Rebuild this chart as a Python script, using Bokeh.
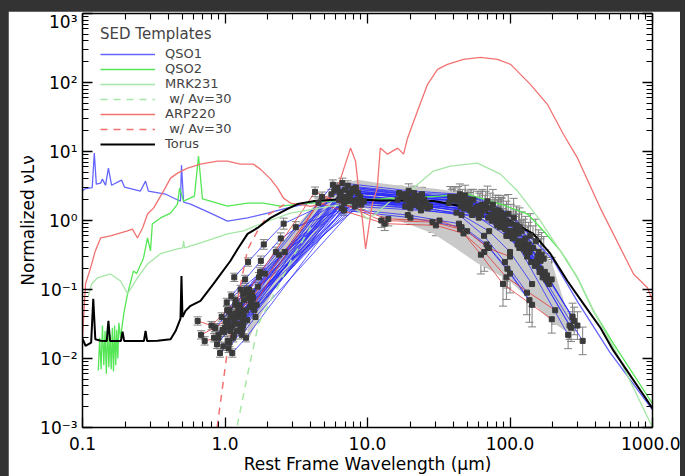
from bokeh.plotting import figure
from bokeh.models import (ColumnDataSource, Legend, LegendItem, FixedTicker, LogAxis,
                          Whisker, TeeHead, Range1d, CustomJSTickFormatter, Title)
from bokeh.layouts import column
from bokeh.embed import file_html
from bokeh.resources import INLINE

# ---------------- templates (rest wavelength in micron, normalized nuLnu) ----------------
QSO1_LAM = [0.1, 0.105, 0.117, 0.121, 0.125, 0.134, 0.138, 0.145, 0.152, 0.160, 0.188, 0.197,
            0.255, 0.277, 0.29, 0.382, 0.45, 0.487, 0.495, 0.512, 0.573, 0.791, 1.04, 1.44, 1.99,
            2.75, 4.0, 6.0, 10, 20, 40, 70, 100, 150, 200, 300, 500, 1000]
QSO1_VAL = [2.7, 2.9, 3.0, 9.5, 3.37, 3.48, 3.98, 3.24, 5.74, 3.24, 3.85, 3.05,
            2.67, 3.72, 2.67, 2.42, 2.05, 1.91, 6.34, 1.85, 1.73, 1.28, 0.98, 1.09, 1.28,
            1.52, 1.8, 1.95, 2.0, 2.05, 1.75, 1.3, 0.9, 0.5, 0.27, 0.065, 0.0125, 0.0018]

QSO2_LAM = [0.129, 0.132, 0.135, 0.138, 0.141, 0.144, 0.147, 0.150, 0.153, 0.156, 0.159, 0.162,
            0.165, 0.168, 0.171, 0.174, 0.177, 0.180, 0.185, 0.195, 0.207, 0.228, 0.24, 0.268,
            0.286, 0.30, 0.309, 0.353, 0.415, 0.464, 0.48, 0.512, 0.61, 0.652, 0.695, 0.791,
            1.04, 1.44, 1.86, 2.45, 5.5, 12.3, 32.5, 50.3, 85.8, 133, 172, 226, 298, 385, 532, 1000]
QSO2_VAL = [0.0067, 0.02, 0.007, 0.03, 0.008, 0.025, 0.006, 0.03, 0.0075, 0.022, 0.007, 0.028,
            0.0065, 0.03, 0.008, 0.026, 0.01, 0.033, 0.02, 0.045, 0.0866, 0.186, 0.17, 0.287,
            0.558, 0.362, 0.89, 1.09, 1.28, 1.73, 2.95, 1.91, 2.26, 8.56, 2.05, 1.91,
            1.62, 1.79, 1.79, 1.62, 1.91, 2.05, 2.26, 2.42, 1.73, 1.24, 0.705, 0.362, 0.147,
            0.049, 0.0164, 0.00222]

MRK_LAM = [0.110, 0.116, 0.127, 0.157, 0.185, 0.207, 0.243, 0.286, 0.353, 0.464, 0.505, 0.512,
           0.52, 0.673, 1.04, 1.35, 1.77, 2.88, 5.5, 7.6, 8.65, 10, 11.4, 14.5, 21, 29, 38.2,
           59, 85.8, 113, 133, 164, 202, 253, 313, 385, 550, 1000]
MRK_VAL = [0.081, 0.12, 0.147, 0.168, 0.133, 0.0866, 0.147, 0.235, 0.33, 0.387, 0.40, 0.505,
           0.40, 0.473, 0.64, 0.705, 0.89, 1.28, 1.62, 1.73, 1.37, 1.05, 1.24, 1.91, 2.95, 5.2,
           6.14, 6.8, 4.7, 2.67, 1.73, 0.98, 0.505, 0.259, 0.121, 0.049, 0.013, 0.001]

MRK_AV_LAM = [1.22, 1.46, 1.72, 2.27, 3.0, 4.0]
MRK_AV_VAL = [0.00107, 0.0067, 0.032, 0.096, 0.3, 0.8]

ARP_LAM = [0.1, 0.105, 0.114, 0.123, 0.134, 0.157, 0.207, 0.224, 0.243, 0.264, 0.286, 0.315,
           0.37, 0.415, 0.464, 0.546, 0.673, 0.886, 1.04, 1.28, 1.58, 1.77, 2.09, 2.34, 2.57,
           2.88, 3.23, 4.0, 5.0, 6.16, 7.6, 8.24, 8.65, 9.23, 9.7, 10.8, 11.7, 12.3, 13.8, 16.3,
           17.9, 19.1, 22.4, 26.4, 31, 36.4, 47.2, 62, 81.7, 101, 139, 183, 237, 298, 431, 736,
           922, 1000]
ARP_VAL = [0.02, 0.121, 0.206, 0.362, 0.558, 0.597, 0.705, 0.75, 0.558, 0.78, 1.24, 1.51,
           2.67, 4.11, 4.86, 5.74, 6.56, 7.25, 7.25, 6.56, 6.56, 5.55, 3.98, 2.95, 2.11,
           1.79, 1.73, 1.6, 1.8, 2.95, 11.2, 7.25, 2.95, 0.98, 0.387, 1.73, 2.95, 11.2, 9.15, 11.2,
           9.15, 15.6, 38.3, 94, 155, 183, 216, 231, 216, 183, 94, 48.3, 17.8, 8.0, 1.5, 0.168,
           0.106, 0.0686]

ARP_AV_LAM = [0.88, 1.04, 1.22, 1.44, 1.69, 2.0, 2.6]
ARP_AV_VAL = [0.001, 0.013, 0.068, 0.38, 0.705, 1.2, 1.7]

TORUS_LAM = [0.1, 0.105, 0.115, 0.119, 0.123, 0.134, 0.148, 0.152, 0.156, 0.186, 0.191, 0.196,
             0.27, 0.277, 0.284, 0.336, 0.415, 0.45, 0.487, 0.495, 0.503, 0.528, 0.573, 0.673,
             0.83, 1.09, 1.24, 1.44, 1.69, 2.09, 2.75, 3.23, 4.18, 7.2, 12.3, 17.1, 29, 59, 101,
             146, 192, 253, 328, 431, 532, 1000]
TORUS_VAL = [0.0194, 0.0153, 0.017, 0.0733, 0.019, 0.0181, 0.018, 0.0352, 0.018, 0.018, 0.0244,
             0.018, 0.018, 0.0252, 0.018, 0.0181, 0.019, 0.025, 0.0377, 0.157, 0.04, 0.049, 0.058,
             0.0686, 0.121, 0.259, 0.40, 0.64, 0.78, 1.09, 1.47, 1.73, 1.91, 2.05, 1.95, 1.95,
             1.91, 1.47, 0.98, 0.64, 0.33, 0.133, 0.062, 0.0279, 0.013, 0.0019]

# ---------------- gray envelope ----------------
BAND_LAM = [1.44, 2.19, 4.18, 6.47, 8.5, 12, 17, 29, 38, 59, 100, 146, 200, 270]
BAND_LO = [0.018, 0.096, 0.505, 2.2, 1.7, 1.2, 0.98, 0.64, 0.45, 0.24, 0.133, 0.062, 0.033, 0.022]
BAND_HI = [0.05, 0.35, 1.6, 3.3, 3.9, 3.5, 3.2, 2.9, 2.7, 1.9, 1.1, 0.55, 0.22, 0.03]

# ---------------- observed sources ----------------
BANDS_OBS = [3.6, 4.5, 5.8, 8.0, 24, 70, 160, 250, 350, 500, 1100]
ERR_DEX = [0.06, 0.06, 0.07, 0.08, 0.07, 0.10, 0.15, 0.22, 0.28, 0.32, 0.20]
N = None
SRC_Z = [2.20, 2.45, 1.85, 2.70, 2.05, 2.30, 1.65, 2.90, 2.55, 2.15, 1.95, 2.60, 2.35, 1.75,
         3.10, 2.25, 2.00, 2.80, 1.55, 2.40, 2.10, 2.65, 3.30, 1.90, 2.50, 2.20, 3.00, 1.80,
         2.75, 2.35, 2.05, 3.20, 1.70, 2.50,
         4.60, 4.30, 4.00]
SRC_CLASS = ["b"] * 34 + ["r"] * 3
SRC_VAL = [
    [0.030, 0.050, N, N, 2.3, 1.9, 1.8, 1.3, 0.75, 0.30, N],
    [0.018, 0.032, N, N, 2.8, 2.1, 2.0, 1.5, 0.90, 0.40, N],
    [0.045, 0.075, N, N, 2.0, 1.7, 1.4, 0.90, 0.45, 0.18, N],
    [0.015, 0.025, N, N, 2.6, 2.3, 2.2, 1.6, 1.00, 0.45, 0.030],
    [0.060, 0.100, 0.170, 0.35, 1.9, 1.6, 1.4, 0.95, 0.50, 0.20, N],
    [0.025, 0.045, N, N, 3.2, 2.5, 2.3, 1.7, 1.10, 0.50, N],
    [0.070, 0.110, N, N, 1.7, 1.5, 1.1, 0.60, 0.30, 0.12, N],
    [0.012, 0.022, N, N, 3.0, 2.4, 2.2, 1.7, 1.20, 0.55, 0.035],
    [0.035, 0.060, N, N, 2.2, 1.8, 1.6, 1.1, 0.60, 0.25, N],
    [0.020, 0.036, N, N, 2.5, 2.1, 1.9, 1.4, 0.85, 0.35, N],
    [0.040, 0.065, N, N, 1.6, 1.4, 1.2, 0.80, 0.40, 0.15, N],
    [0.028, 0.050, N, N, 3.5, 2.7, 2.4, 1.9, 1.25, 0.60, N],
    [0.050, 0.085, 0.150, 0.32, 2.1, 1.7, 1.5, 1.0, 0.55, 0.22, N],
    [0.022, 0.040, N, N, 1.8, 1.6, 1.3, 0.85, 0.42, 0.16, N],
    [0.016, 0.028, N, N, 2.7, 2.2, 2.0, 1.5, 1.00, 0.45, 0.028],
    [0.080, 0.140, 0.260, 0.55, 2.4, 1.9, 1.6, 1.1, 0.60, 0.24, N],
    [0.032, 0.055, N, N, 2.9, 2.3, 2.0, 1.4, 0.80, 0.32, N],
    [0.040, 0.070, N, N, 2.0, 1.6, 1.3, 0.60, 0.25, 0.09, N],
    [0.100, 0.180, 0.350, 0.80, 1.9, 1.6, 1.2, 0.70, 0.35, 0.14, N],
    [0.014, 0.026, N, N, 2.2, 1.9, 1.7, 1.2, 0.70, 0.25, 0.018],
    [0.150, 0.250, 0.450, 0.90, 2.6, 2.0, 1.5, 0.90, 0.45, 0.18, N],
    [0.024, 0.042, N, N, 1.5, 1.2, 0.9, 0.45, 0.20, 0.07, N],
    [0.020, 0.035, N, N, 2.4, 2.0, 1.8, 1.3, 0.85, 0.40, 0.022],
    [0.055, 0.090, N, N, 3.0, 2.4, 2.0, 1.3, 0.70, 0.28, N],
    [0.030, 0.052, N, N, 1.4, 1.1, 0.8, 0.40, 0.17, 0.06, N],
    [0.012, 0.020, N, N, 2.0, 1.8, 1.6, 1.1, 0.65, 0.28, N],
    [0.022, 0.040, N, N, 2.9, 2.3, 2.1, 1.6, 1.10, 0.50, 0.040],
    [0.030, 0.050, N, N, 2.5, 2.0, 1.5, 0.80, 0.38, 0.14, N],
    [0.026, 0.045, N, N, 2.4, 2.0, 1.9, 1.4, 0.90, 0.40, N],
    [0.017, 0.030, N, N, 1.9, 1.7, 1.5, 1.0, 0.60, 0.25, N],
    [0.045, 0.075, N, N, 2.7, 2.2, 1.8, 1.2, 0.65, 0.26, N],
    [0.028, 0.048, N, N, 3.3, 2.5, 2.2, 1.6, 1.05, 0.48, 0.030],
    [0.038, 0.060, N, N, 2.2, 1.8, 1.3, 0.75, 0.35, 0.13, N],
    [0.065, 0.100, N, N, 1.8, 1.5, 1.2, 0.70, 0.35, 0.12, N],
    [0.035, 0.030, 0.050, 0.09, 2.6, 1.0, 0.95, 0.75, 0.32, 0.12, 0.037],
    [0.022, 0.028, 0.040, 0.07, 1.8, 0.9, 0.85, 0.65, 0.35, 0.15, 0.050],
    [0.018, 0.020, 0.035, 0.06, 2.2, 1.05, 1.0, 0.70, 0.40, 0.30, N],
]

# ---------------- axes ticks ----------------
XT = [0.1, 1, 10, 100, 1000]
XT_LABELS = ["0.1", "1.0", "10.0", "100.0", "1000.0"]
YT = [0.001, 0.01, 0.1, 1, 10, 100, 1000]
YT_LABELS = ["10\u207b\u00b3", "10\u207b\u00b2", "10\u207b\u00b9", "10\u2070", "10\u00b9", "10\u00b2", "10\u00b3"]
XMINOR = [m * t for t in XT[:-1] for m in range(2, 10)]
YMINOR = [m * t for t in YT[:-1] for m in range(2, 10)]
X_TITLE = "Rest Frame Wavelength (\u03bcm)"
Y_TITLE = "Normalized \u03bdL\u03bd"

FONT = "DejaVu Sans"

p = figure(width=672, height=465, x_axis_type="log", y_axis_type="log",
           x_range=Range1d(0.1, 1000), y_range=Range1d(1e-3, 1e3),
           output_backend="svg", toolbar_location=None,
           min_border_left=74, min_border_right=28, min_border_top=2, min_border_bottom=49,
           background_fill_color="white", border_fill_color="white")
p.outline_line_color = None
p.grid.visible = False

# gray band
p.patch(BAND_LAM + BAND_LAM[::-1], BAND_LO + BAND_HI[::-1], fill_color="#c9c9c9",
        line_color=None)

# source lines / points
xs_b, ys_b, xs_r, ys_r = [], [], [], []
px, py, plo, phi = [], [], [], []
for z, cls, vals in zip(SRC_Z, SRC_CLASS, SRC_VAL):
    lx, ly = [], []
    for b, v, e in zip(BANDS_OBS, vals, ERR_DEX):
        if v is None:
            continue
        lam = b / (1.0 + z)
        lx.append(lam)
        ly.append(v)
        px.append(lam)
        py.append(v)
        plo.append(v / 10 ** e)
        phi.append(v * 10 ** e)
    if cls == "b":
        xs_b.append(lx); ys_b.append(ly)
    else:
        xs_r.append(lx); ys_r.append(ly)

p.multi_line(xs_b, ys_b, line_color="#2525ff", line_width=0.9, line_alpha=0.85)
p.multi_line(xs_r, ys_r, line_color="#e03a3a", line_width=0.9, line_alpha=0.9)

pts = ColumnDataSource(dict(x=px, y=py, lo=plo, hi=phi))
wh = Whisker(source=pts, base="x", upper="hi", lower="lo", dimension="height",
             line_color="#808080", line_width=1,
             upper_head=TeeHead(size=8, line_color="#808080", line_width=1),
             lower_head=TeeHead(size=8, line_color="#808080", line_width=1))
p.add_layout(wh)

# templates
r_q1 = p.line(QSO1_LAM, QSO1_VAL, line_color="#6464ff", line_width=1.3)
r_q2 = p.line(QSO2_LAM, QSO2_VAL, line_color="#55e655", line_width=1.3)
r_mk = p.line(MRK_LAM, MRK_VAL, line_color="#a6e6a6", line_width=1.3)
r_mka = p.line(MRK_AV_LAM, MRK_AV_VAL, line_color="#a6e6a6", line_width=1.5, line_dash="7 6")
r_ar = p.line(ARP_LAM, ARP_VAL, line_color="#f27272", line_width=1.3)
r_ara = p.line(ARP_AV_LAM, ARP_AV_VAL, line_color="#f27272", line_width=1.5, line_dash="7 6")
r_to = p.line(TORUS_LAM, TORUS_VAL, line_color="black", line_width=2)

p.scatter(px, py, marker="square", size=5, fill_color="#3a3a3a", line_color="#3a3a3a")

# axes styling
def style_axis(ax):
    ax.axis_line_width = 1.5
    ax.axis_line_color = "black"
    ax.major_tick_line_width = 1.3
    ax.minor_tick_line_width = 1.1
    ax.major_tick_in = 10
    ax.major_tick_out = 0
    ax.minor_tick_in = 6
    ax.minor_tick_out = 0
    ax.major_label_text_font = FONT
    ax.major_label_text_font_size = "17px"
    ax.major_label_text_color = "black"

p.xaxis.ticker = FixedTicker(ticks=XT, minor_ticks=XMINOR)
p.yaxis.ticker = FixedTicker(ticks=YT, minor_ticks=YMINOR)
p.xaxis.major_label_overrides = dict(zip(XT, XT_LABELS))
p.yaxis.major_label_overrides = dict(zip(YT, YT_LABELS))
for ax in (p.xaxis[0], p.yaxis[0]):
    style_axis(ax)
p.xaxis.major_label_standoff = 9
p.yaxis.major_label_standoff = 5
p.xaxis.axis_label = X_TITLE
p.xaxis.axis_label_text_font = FONT
p.xaxis.axis_label_text_font_size = "17px"
p.xaxis.axis_label_text_font_style = "normal"
p.xaxis.axis_label_text_color = "black"
p.xaxis.axis_label_standoff = 1

# y title placed at the outer left edge of the figure
p.add_layout(Title(text=Y_TITLE, align="center", text_font=FONT, text_font_size="17px",
                   text_font_style="normal", text_color="black", standoff=0, offset=0),
             "left")

blank = CustomJSTickFormatter(code="return ''")
top = LogAxis(ticker=FixedTicker(ticks=XT, minor_ticks=XMINOR), formatter=blank)
right = LogAxis(ticker=FixedTicker(ticks=YT, minor_ticks=YMINOR), formatter=blank)
style_axis(top); style_axis(right)
p.add_layout(top, "above")
p.add_layout(right, "right")

legend = Legend(items=[
    LegendItem(label="QSO1", renderers=[r_q1]),
    LegendItem(label="QSO2", renderers=[r_q2]),
    LegendItem(label="MRK231", renderers=[r_mk]),
    LegendItem(label="\u00a0w/ Av=30", renderers=[r_mka]),
    LegendItem(label="ARP220", renderers=[r_ar]),
    LegendItem(label="\u00a0w/ Av=30", renderers=[r_ara]),
    LegendItem(label="Torus", renderers=[r_to]),
], location=(18, 276), title="SED Templates")
legend.title_text_font = FONT
legend.title_text_font_size = "15px"
legend.title_text_font_style = "normal"
legend.title_standoff = 3
legend.label_text_font = FONT
legend.label_text_font_size = "13px"
legend.glyph_width = 55
legend.glyph_height = 12
legend.label_height = 12
legend.label_standoff = 10
legend.spacing = 0
legend.padding = 5
legend.margin = 0
legend.background_fill_alpha = 0
legend.border_line_color = None
p.add_layout(legend)

layout = column(p, styles={"background-color": "#333333", "padding-left": "8px",
                           "padding-top": "11px", "padding-right": "5px"})

open("out.html", "w").write(file_html(layout, INLINE))
